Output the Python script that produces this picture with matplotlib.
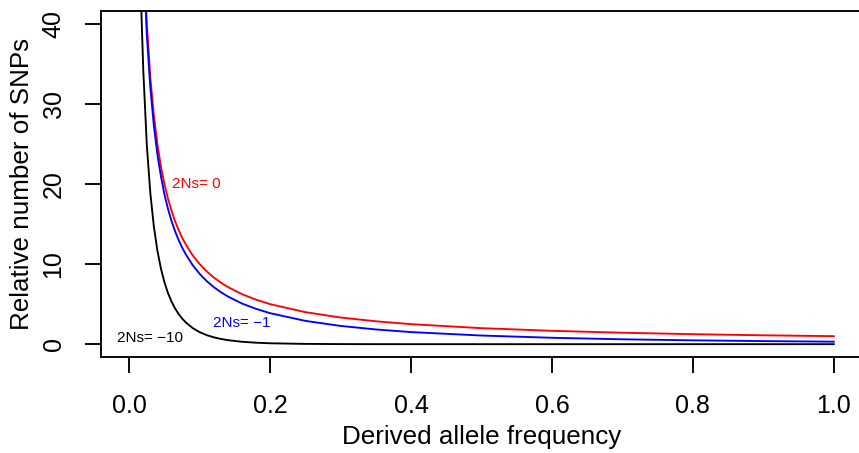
import numpy as np
import matplotlib
matplotlib.use("Agg")
import matplotlib.pyplot as plt

# =====================================================
# DATA
# =====================================================
freq = [0.0100, 0.0120, 0.0150, 0.0175, 0.020, 0.025, 0.030, 0.035, 0.040, 0.045,
        0.050, 0.055, 0.060, 0.065, 0.070, 0.075, 0.080, 0.090, 0.100, 0.110,
        0.120, 0.130, 0.140, 0.160, 0.180, 0.200, 0.250, 0.300, 0.350, 0.400,
        0.500, 0.600, 0.700, 0.800, 0.900, 1.000]

# 2Ns = 0
snps_neutral = [100.0, 83.3, 66.7, 57.1, 50.0, 40.0, 33.3, 28.6, 25.0, 22.2,
                20.0, 18.18, 16.7, 15.38, 14.3, 13.33, 12.5, 11.1, 10.0, 9.09,
                8.33, 7.69, 7.14, 6.25, 5.56, 5.00, 4.00, 3.33, 2.86, 2.50,
                2.00, 1.67, 1.43, 1.25, 1.11, 1.00]

# 2Ns = -1
snps_weak = [98.6, 82.1, 65.4, 55.9, 48.7, 38.7, 32.05, 27.3, 23.7, 21.0,
             18.7, 16.92, 15.4, 14.13, 13.04, 12.09, 11.27, 9.88, 8.78, 7.88,
             7.13, 6.50, 5.96, 5.08, 4.41, 3.87, 2.91, 2.28, 1.84, 1.51,
             1.08, 0.80, 0.61, 0.48, 0.385, 0.313]

# 2Ns = -10
snps_strong = [82.7, 66.3, 50.1, 41.0, 34.2, 24.9, 18.86, 14.70, 11.70, 9.46,
               7.74, 6.40, 5.34, 4.48, 3.79, 3.22, 2.74, 2.02, 1.50, 1.13,
               0.859, 0.657, 0.505, 0.303, 0.185, 0.114, 0.036, 0.012, 0.004, 0.0014,
               0.0, 0.0, 0.0, 0.0, 0.0, 0.0]

x_ticks = [0.0, 0.2, 0.4, 0.6, 0.8, 1.0]
x_ticklabels = ["0.0", "0.2", "0.4", "0.6", "0.8", "1.0"]
y_ticks = [0, 10, 20, 30, 40]

labels = ["2Ns= 0", "2Ns= \u22121", "2Ns= \u221210"]
label_pos = [(0.095, 20.0), (0.16, 2.7), (0.03, 0.8)]
colors = ["red", "blue", "black"]

# =====================================================
# FIGURE
# =====================================================
plt.rcParams["font.family"] = ["Liberation Sans", "DejaVu Sans"]

W, H = 859, 453
fig = plt.figure(figsize=(W / 100, H / 100), dpi=100)
left, right, top, bottom = 101, 862, 11, 357
ax = fig.add_axes([left / W, 1 - bottom / H, (right - left) / W, (bottom - top) / H])

lw = 1.35
ax.plot(freq, snps_neutral, color="red", lw=lw)
ax.plot(freq, snps_weak, color="blue", lw=lw)
ax.plot(freq, snps_strong, color="black", lw=lw)

for txt, (tx, ty), c in zip(labels, label_pos, colors):
    ax.text(tx, ty, txt, color=c, fontsize=11, ha="center", va="center")

ax.set_xlim(-0.04, 1.04)
ax.set_ylim(-1.6, 41.6)

ax.set_xticks(x_ticks)
ax.set_xticklabels(x_ticklabels)
ax.set_yticks(y_ticks)

for s in ax.spines.values():
    s.set_linewidth(1.35)

ax.tick_params(axis="both", length=11.5, width=1.35, labelsize=18, direction="out")
ax.tick_params(axis="x", pad=15)
ax.tick_params(axis="y", pad=14)
for lab in ax.get_yticklabels():
    lab.set_rotation(90)
    lab.set_va("center")
    lab.set_ha("right")

ax.set_xlabel("Derived allele frequency", fontsize=18.7)
ax.set_ylabel("Relative number of SNPs", fontsize=18.7)
ax.xaxis.set_label_coords(0.5, (bottom - 437) / (bottom - top))
ax.xaxis.label.set_va("center")
ax.yaxis.set_label_coords((22 - left) / (right - left), 0.5)
ax.yaxis.label.set_va("center")

fig.savefig("out.png", dpi=100)
